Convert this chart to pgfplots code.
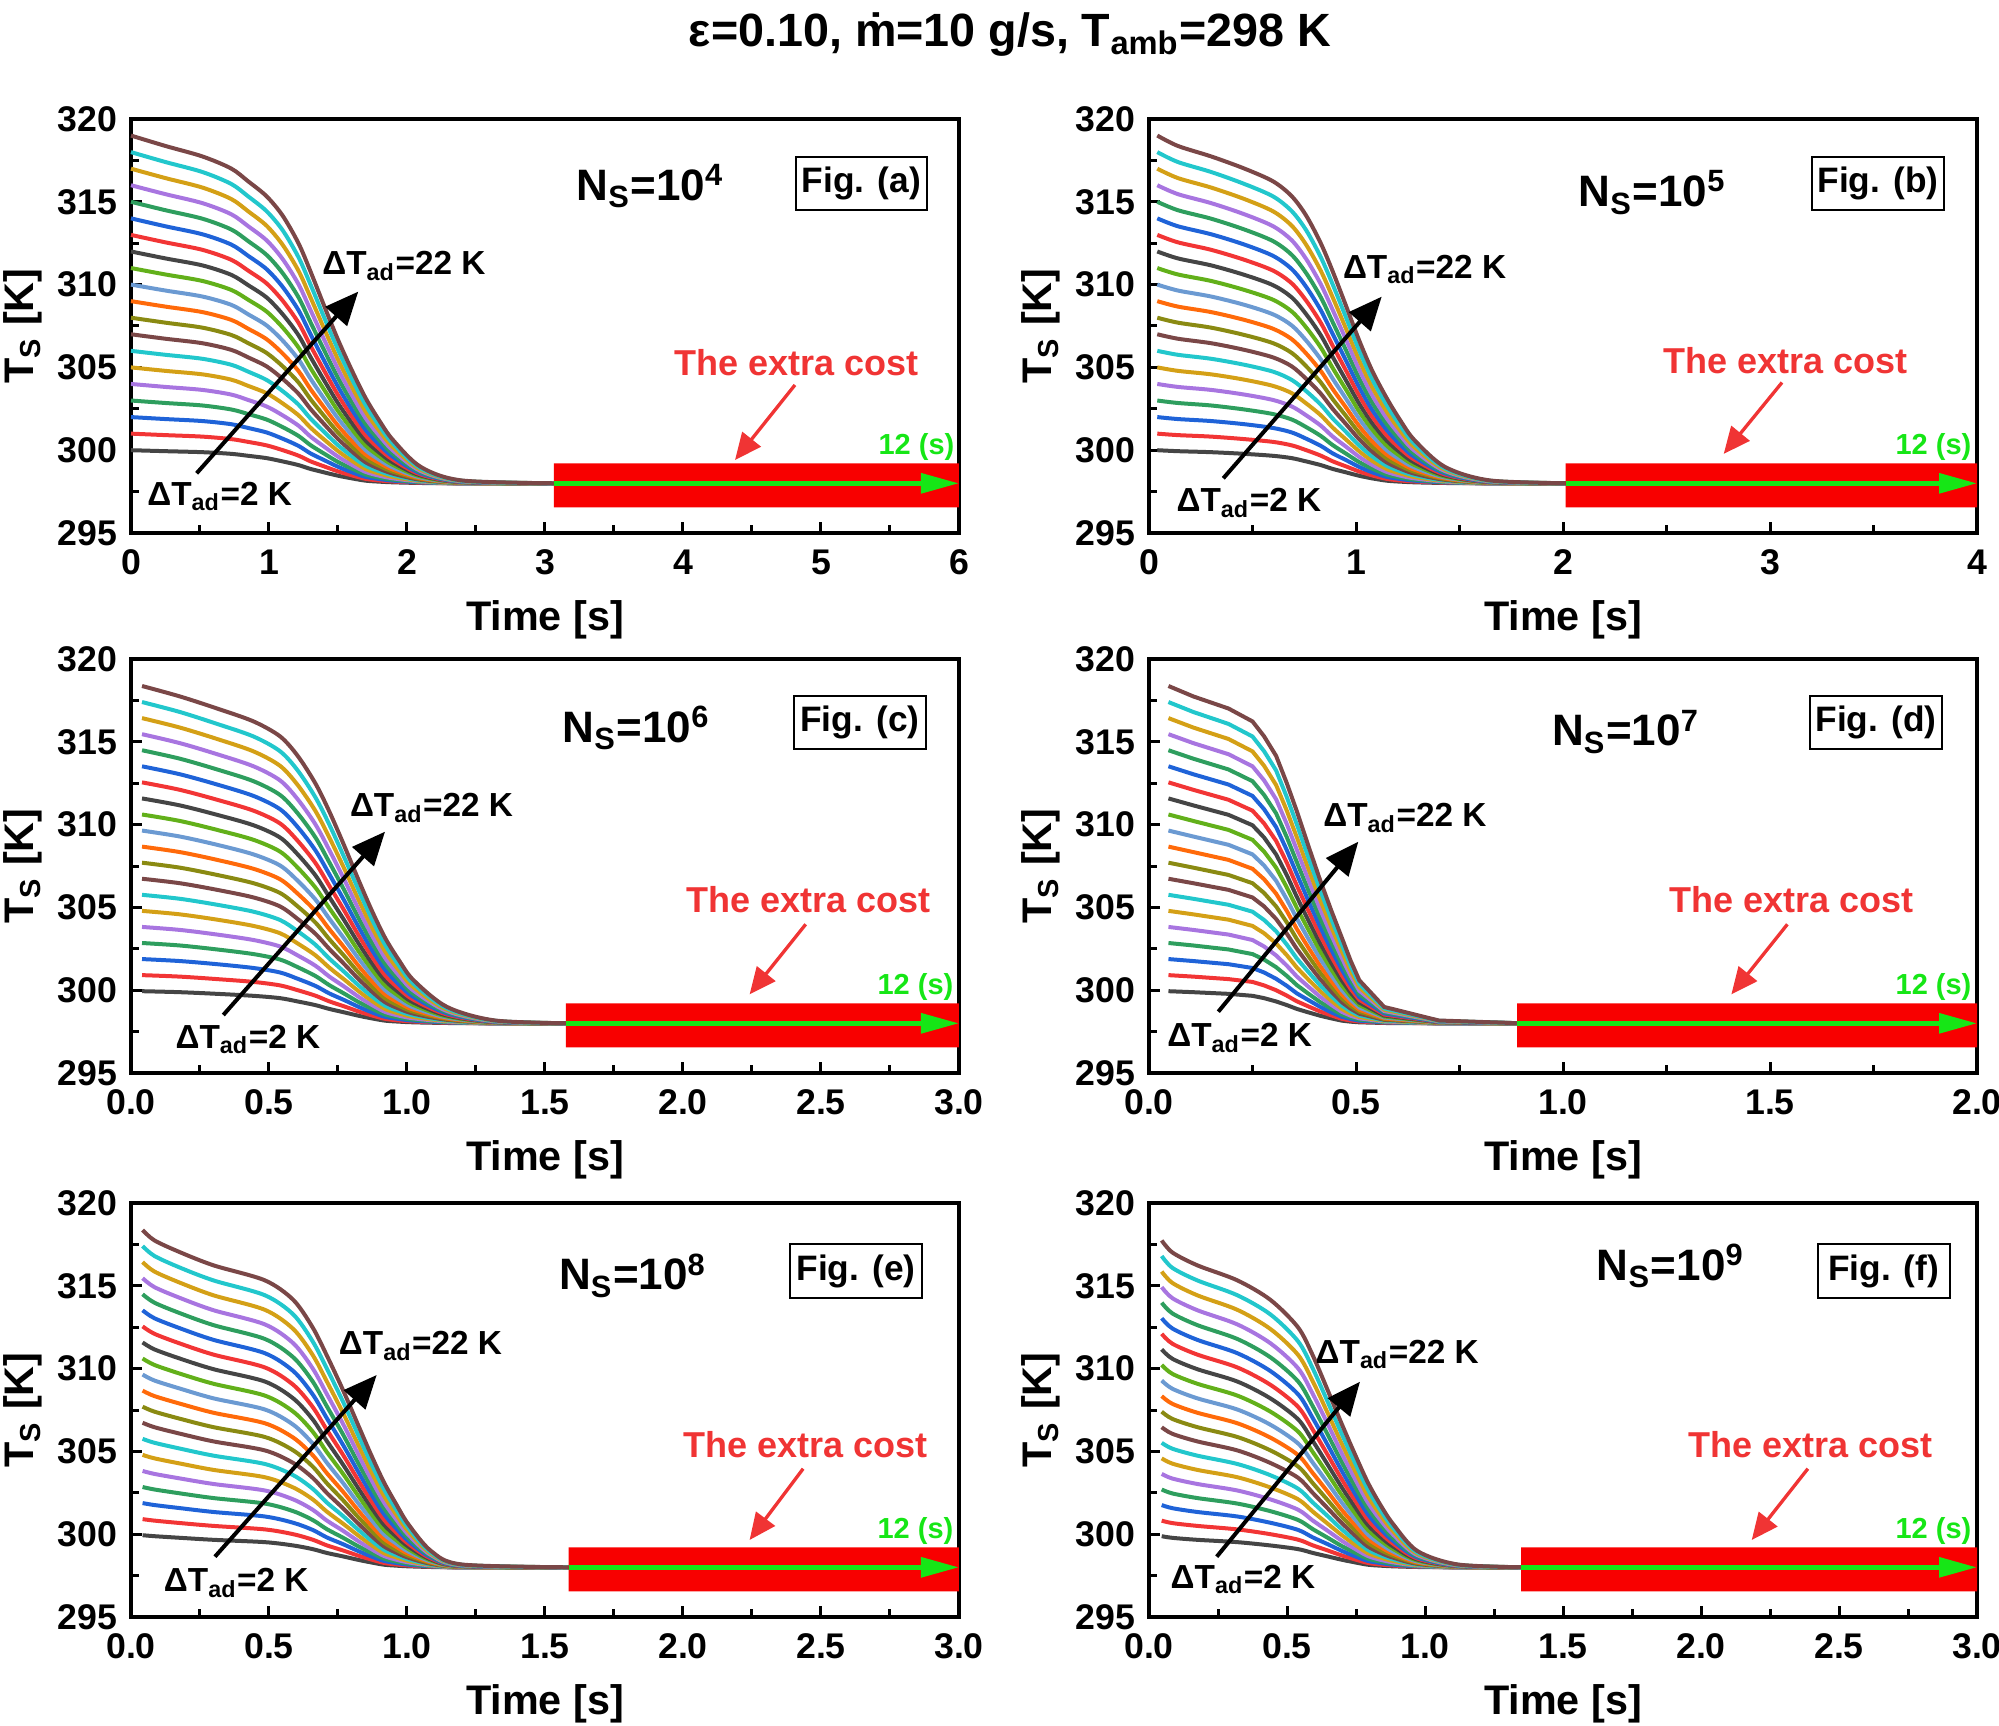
\documentclass[border=0pt]{standalone}
\usepackage{fontspec}
\setmainfont{Liberation Sans}
\usepackage{pgfplots}
\pgfplotsset{compat=1.18}
\usepackage{pgfplotstable}
\usetikzlibrary{arrows.meta}

% curve palette (repeats after twelve curves)
\definecolor{c01}{HTML}{454545}
\definecolor{c02}{HTML}{F23535}
\definecolor{c03}{HTML}{1F63D8}
\definecolor{c04}{HTML}{2E9E5E}
\definecolor{c05}{HTML}{A875E0}
\definecolor{c06}{HTML}{D4A016}
\definecolor{c07}{HTML}{22C7CC}
\definecolor{c08}{HTML}{7A4747}
\definecolor{c09}{HTML}{8A8A12}
\definecolor{c10}{HTML}{FF6A0A}
\definecolor{c11}{HTML}{6B9AD2}
\definecolor{c12}{HTML}{62B01A}
\definecolor{barred}{HTML}{F80000}
\definecolor{txtred}{HTML}{F03434}
\definecolor{arrgreen}{HTML}{16E616}

\pgfplotscreateplotcyclelist{ts}{c01\\c02\\c03\\c04\\c05\\c06\\c07\\c08\\c09\\c10\\c11\\c12\\}

% surface temperature T_S [K] for Delta T_ad = 2 ... 21 K (columns c1..c20);
% one time column per N_S case (nan = sample not recorded for that case)
\pgfplotstableread{
ta tb tc td te tf c1 c2 c3 c4 c5 c6 c7 c8 c9 c10 c11 c12 c13 c14 c15 c16 c17 c18 c19 c20
0 0.04 nan nan nan nan 300 301 302 303 304 305 306 307 308 309 310 311 312 313 314 315 316 317 318 319
0.25 0.14 0.04 0.047 0.042 nan 299.94 300.91 301.88 302.85 303.82 304.79 305.76 306.73 307.70 308.67 309.64 310.61 311.58 312.55 313.52 314.49 315.46 316.43 317.40 318.37
0.517 0.30 0.177 0.107 0.085 0.046 299.88 300.82 301.76 302.70 303.64 304.58 305.52 306.46 307.40 308.34 309.28 310.22 311.16 312.10 313.04 313.98 314.92 315.86 316.80 317.74
0.726 0.46 0.312 0.192 0.18 0.085 299.78 300.67 301.57 302.46 303.36 304.26 305.16 306.06 306.96 307.87 308.78 309.68 310.59 311.50 312.42 313.33 314.25 315.17 316.08 317.01
0.85 0.60 0.444 0.25 0.30 0.176 299.66 300.50 301.34 302.18 303.03 303.88 304.74 305.60 306.46 307.33 308.20 309.08 309.96 310.84 311.73 312.62 313.52 314.42 315.32 316.23
0.983 0.69 0.54 0.278 0.485 0.32 299.52 300.29 301.07 301.85 302.64 303.44 304.24 305.06 305.87 306.70 307.53 308.37 309.22 310.07 310.93 311.79 312.67 313.55 314.43 315.33
1.1 0.76 0.604 0.307 0.588 0.44 299.32 300.00 300.69 301.39 302.10 302.82 303.56 304.30 305.06 305.83 306.61 307.40 308.20 309.02 309.85 310.68 311.53 312.39 313.27 314.15
1.214 0.83 0.668 0.333 0.658 0.54 299.10 299.67 300.26 300.86 301.48 302.11 302.75 303.41 304.09 304.78 305.48 306.20 306.94 307.69 308.45 309.23 310.02 310.83 311.65 312.49
1.3 0.887 0.718 0.357 0.709 0.593 298.87 299.33 299.81 300.31 300.83 301.37 301.92 302.50 303.09 303.70 304.33 304.97 305.64 306.32 307.02 307.74 308.48 309.24 310.02 310.81
1.4 0.952 0.773 0.385 0.768 0.647 298.66 299.02 299.40 299.79 300.21 300.64 301.10 301.57 302.06 302.57 303.10 303.65 304.21 304.80 305.40 306.03 306.67 307.33 308.01 308.71
1.5 1.014 0.824 0.413 0.821 0.698 298.46 298.72 299.00 299.29 299.61 299.95 300.30 300.68 301.07 301.48 301.92 302.37 302.84 303.33 303.84 304.37 304.91 305.48 306.07 306.67
1.6 1.077 0.872 0.44 0.869 0.746 298.30 298.48 298.67 298.89 299.12 299.37 299.64 299.93 300.24 300.56 300.91 301.27 301.65 302.05 302.46 302.90 303.35 303.83 304.32 304.83
1.7 1.148 0.921 0.466 0.916 0.792 298.16 298.27 298.39 298.53 298.69 298.86 299.06 299.27 299.50 299.74 300.00 300.28 300.58 300.89 301.23 301.58 301.94 302.33 302.73 303.15
1.8 1.215 0.972 0.487 0.962 0.838 298.10 298.17 298.26 298.35 298.46 298.59 298.73 298.88 299.05 299.23 299.42 299.63 299.85 300.08 300.33 300.60 300.87 301.16 301.46 301.78
1.9 1.283 1.024 0.508 1.005 0.885 298.06 298.11 298.16 298.22 298.30 298.38 298.48 298.58 298.70 298.82 298.95 299.10 299.25 299.42 299.59 299.77 299.97 300.17 300.38 300.60
2.1 1.43 1.145 0.568 1.087 0.972 298.02 298.04 298.06 298.08 298.11 298.14 298.17 298.21 298.26 298.30 298.35 298.41 298.47 298.53 298.60 298.67 298.74 298.82 298.90 298.99
2.4 1.65 1.32 0.70 1.2 1.12 298.00 298.00 298.00 298.01 298.01 298.01 298.02 298.03 298.03 298.04 298.05 298.06 298.07 298.08 298.09 298.11 298.12 298.14 298.15 298.17
3.1 2.05 1.6 0.9 1.6 1.37 298 298 298 298 298 298 298 298 298 298 298 298 298 298 298 298 298 298 298 298
}\levels

\newcommand{\tickfont}{\fontsize{10.7}{12}\selectfont\bfseries}
\newcommand{\lblfont}{\fontsize{12.4}{14}\selectfont\bfseries}
\newcommand{\nsfont}{\fontsize{13.2}{15}\selectfont\bfseries}
\newcommand{\figfont}{\fontsize{10.6}{12}\selectfont\bfseries}
\newcommand{\extrafont}{\fontsize{10.8}{12}\selectfont\bfseries}
\newcommand{\dtfont}{\fontsize{10}{12}\selectfont\bfseries}
\newcommand{\twfont}{\fontsize{8.7}{10}\selectfont\bfseries}

\pgfplotsset{
  panel/.style={
    scale only axis, width=248.4pt, height=124.2pt, anchor=south west,
    ymin=295, ymax=320, ytick={295,300,...,320}, minor y tick num=1,
    axis line style={line width=1pt},
    tick align=inside, xtick pos=left, ytick pos=left,
    major tick length=3.4pt, minor tick length=2.4pt,
    every tick/.style={black, line width=0.9pt},
    tick label style={font=\tickfont},
    xticklabel style={yshift=-1.5pt},
    yticklabel style={xshift=-0.7pt},
    /pgf/number format/assume math mode=true,
    xlabel={Time [s]}, ylabel={T\textsubscript{S} [K]},
    label style={font=\lblfont},
    xlabel style={at={(axis description cs:0.5,-0.2092)}, anchor=center},
    ylabel style={at={(axis description cs:-0.1304,0.5)}, anchor=center},
    clip=false, no markers, cycle list name=ts,
  },
  decx/.style={xticklabel style={/pgf/number format/fixed,
    /pgf/number format/fixed zerofill, /pgf/number format/precision=1}},
}

% the twenty temperature histories of one case
\newcommand{\tscurves}[2]{%
  \pgfplotsinvokeforeach{1,...,20}{%
    \addplot+[#2, line width=1.2pt] table[x=#1, y=c##1] {\levels};}}
% red band with the green time arrow
\newcommand{\ExtraBar}[2]{%
  \addplot[draw=none, fill=barred] coordinates
    {(#1,296.55) (#2,296.55) (#2,299.2) (#1,299.2) (#1,296.55)};
  \addplot[arrgreen, line width=1.5pt,
    -{Triangle[length=11.4pt,width=5.8pt]}] coordinates {(#1,298) (#2,298)};}
\newcommand{\NS}[3]{\node[anchor=base west, inner sep=0pt, font=\nsfont]
  at (rel axis cs:#1,#2) {N\textsubscript{S}=10\textsuperscript{#3}};}
\newcommand{\FigBox}[3]{\node[draw, line width=0.6pt, minimum width=39.5pt,
  minimum height=16pt, inner sep=0pt, font=\figfont]
  at (rel axis cs:#1,#2) {Fig. (#3)};}
\newcommand{\Extra}[6]{%
  \node[anchor=base, inner sep=0pt, font=\extrafont, text=txtred]
    at (rel axis cs:#1,#2) {The extra cost};
  \draw[txtred, line width=1pt, -{Triangle[length=8pt,width=7pt]}]
    (rel axis cs:#3,#4) -- (rel axis cs:#5,#6);}
\newcommand{\Twelve}[2]{\node[anchor=base east, inner sep=0pt, font=\twfont,
  text=arrgreen] at (rel axis cs:#1,#2) {12 (s)};}
\newcommand{\DeltaArrow}[8]{%
  \draw[black, line width=1.2pt, -{Triangle[length=10pt,width=8.5pt]}]
    (rel axis cs:#1,#2) -- (rel axis cs:#3,#4);
  \node[anchor=base west, inner sep=0pt, font=\dtfont]
    at (rel axis cs:#5,#6) {ΔT\textsubscript{ad}=22 K};
  \node[anchor=base west, inner sep=0pt, font=\dtfont]
    at (rel axis cs:#7,#8) {ΔT\textsubscript{ad}=2 K};}

\begin{document}
\begin{tikzpicture}
\useasboundingbox (0,0) rectangle (599.7pt,517.5pt);
\node[anchor=base, inner sep=0pt, font=\fontsize{14}{16}\selectfont\bfseries]
  at (303pt,503.4pt) {ε=0.10, ṁ=10 g/s, T\textsubscript{amb}=298 K};

% (a)
\begin{axis}[panel, at={(39.3pt,357.6pt)}, xmin=0, xmax=6,
  xtick={0,1,...,6}, minor x tick num=1]
\tscurves{ta}{smooth}
\ExtraBar{3.065}{6}
\NS{0.5374}{0.8043}{4}
\FigBox{0.8822}{0.8445}{a}
\Extra{0.8043}{0.3816}{0.8019}{0.3575}{0.7295}{0.1763}
\Twelve{0.9952}{0.1884}
\DeltaArrow{0.0793}{0.1442}{0.2745}{0.5831}{0.2303}{0.6232}{0.019}{0.0676}
\end{axis}

% (b)
\begin{axis}[panel, at={(344.7pt,357.6pt)}, xmin=0, xmax=4,
  xtick={0,1,...,4}, minor x tick num=1]
\tscurves{tb}{smooth}
\ExtraBar{2.013}{4}
\NS{0.5181}{0.7886}{5}
\FigBox{0.8804}{0.844}{b}
\Extra{0.7687}{0.3853}{0.7645}{0.3635}{0.6941}{0.1911}
\Twelve{0.994}{0.1884}
\DeltaArrow{0.0897}{0.1321}{0.281}{0.5708}{0.2335}{0.6152}{0.0326}{0.0514}
\end{axis}

% (c)
\begin{axis}[panel, decx, at={(39.3pt,195.6pt)}, xmin=0, xmax=3,
  xtick={0,0.5,...,3}, minor x tick num=1]
\tscurves{tc}{smooth}
\ExtraBar{1.576}{3}
\NS{0.5205}{0.7995}{6}
\FigBox{0.8803}{0.8459}{c}
\Extra{0.818}{0.387}{0.8149}{0.3592}{0.7471}{0.1899}
\Twelve{0.994}{0.1908}
\DeltaArrow{0.1115}{0.1401}{0.3068}{0.5829}{0.2637}{0.6191}{0.0531}{0.0597}
\end{axis}

% (d)
\begin{axis}[panel, decx, at={(344.7pt,195.6pt)}, xmin=0, xmax=2,
  xtick={0,0.5,...,2}, minor x tick num=1]
\tscurves{td}{sharp plot}
\ExtraBar{0.889}{2}
\NS{0.4861}{0.7903}{7}
\FigBox{0.878}{0.8459}{d}
\Extra{0.7757}{0.387}{0.771}{0.3592}{0.7033}{0.1899}
\Twelve{0.994}{0.1908}
\DeltaArrow{0.0837}{0.1481}{0.2528}{0.5587}{0.2098}{0.5949}{0.0214}{0.0635}
\end{axis}

% (e)
\begin{axis}[panel, decx, at={(39.3pt,32.4pt)}, xmin=0, xmax=3,
  xtick={0,0.5,...,3}, minor x tick num=1]
\tscurves{te}{smooth}
\ExtraBar{1.586}{3}
\NS{0.5162}{0.7899}{8}
\FigBox{0.8757}{0.8357}{e}
\Extra{0.8149}{0.386}{0.8118}{0.3582}{0.7471}{0.186}
\Twelve{0.994}{0.1889}
\DeltaArrow{0.1014}{0.1457}{0.2967}{0.5845}{0.2504}{0.6329}{0.039}{0.0611}
\end{axis}

% (f)
\begin{axis}[panel, decx, at={(344.7pt,32.4pt)}, xmin=0, xmax=3,
  xtick={0,0.5,...,3}, minor x tick num=1]
\tscurves{tf}{smooth}
\ExtraBar{1.348}{3}
\NS{0.5401}{0.814}{9}
\FigBox{0.8873}{0.8357}{f}
\Extra{0.7988}{0.386}{0.7957}{0.3582}{0.7279}{0.186}
\Twelve{0.994}{0.1889}
\DeltaArrow{0.0818}{0.1457}{0.2548}{0.5684}{0.2005}{0.6128}{0.0254}{0.0693}
\end{axis}
\end{tikzpicture}
\end{document}
